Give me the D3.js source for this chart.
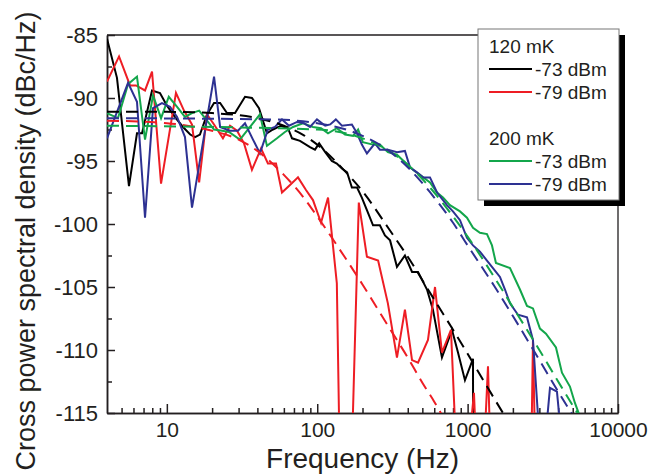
<!DOCTYPE html>
<html>
<head>
<meta charset="utf-8">
<script src="https://cdn.jsdelivr.net/npm/d3@7"></script>
<style>
body { margin: 0; background: #fff; }
text { font-family: "Liberation Sans", Arial, Helvetica, sans-serif; fill: #231f20; }
</style>
</head>
<body>
<svg id="chart"></svg>
<script>
// measured spectra, [frequency in Hz, dBc/Hz]; values under -115 fall below the axis
var black73 = [[4.0,-85.3],[4.66,-88.4],[5.6,-97.0],[6.33,-92.8],[6.84,-92.8],[7.97,-89.4],[9.0,-89.6],[10.0,-90.6],
    [11.3,-91.5],[12.8,-92.3],[14.3,-92.9],[15.4,-93.1],[16.6,-92.9],[18.5,-91.3],[20.6,-90.4],[22.6,-90.4],
    [25.1,-91.2],[28.4,-91.2],[33.1,-89.9],[36.8,-90.0],[41.0,-90.8],[46.3,-92.8],[50.8,-92.5],[57.4,-92.2],
    [63.9,-92.4],[68.0,-93.2],[76.8,-93.4],[89.5,-93.9],[96.6,-94.1],[103,-93.6],[113,-94.3],[125,-95.0],
    [135,-95.2],[146,-95.6],[158,-95.9],[170,-97.1],[184,-97.1],[198,-97.9],[214,-98.9],[235,-100.1],
    [261,-100.1],[282,-100.9],[305,-101.3],[339,-103.4],[383,-102.5],[427,-103.8],[468,-103.8],[537,-105.2],
    [588,-106.8],[675,-110.6],[787,-108.4],[863,-110.2],[960,-112.4],[1086,-110.7],[1090,-125]];

var red79 = [[4.0,-88.7],[4.81,-86.7],[5.69,-89.0],[6.24,-89.0],[7.16,-89.4],[7.97,-87.9],[9.15,-96.8],[11.5,-89.6],
    [13.0,-91.0],[14.7,-92.1],[16.4,-96.7],[18.5,-91.3],[20.6,-92.1],[23.6,-93.2],[26.3,-92.2],[29.3,-92.6],
    [32.6,-93.6],[36.8,-95.7],[42.3,-94.0],[47.0,-95.2],[53.2,-95.2],[58.3,-97.5],[65.9,-96.9],[74.5,-96.3],
    [84.2,-97.3],[93.7,-98.1],[106,-99.9],[118,-97.9],[135,-104.7],[151,-140],[189,-98.3],[214,-102.6],
    [254,-102.9],[295,-106.3],[339,-110.6],[383,-106.8],[427,-110.8],[468,-111.0],[545,-109.2],[607,-105.0],
    [675,-110.2],[775,-108.4],[890,-125],[1102,-113.4],[1208,-125],[1366,-111.3],[1474,-125],[2600,-125],
    [2720,-109.2],[2891,-125]];

var green73 = [[4.0,-91.2],[4.73,-91.6],[5.52,-88.9],[6.33,-88.3],[7.16,-93.3],[8.09,-89.8],[9.15,-91.6],[10.3,-89.9],
    [11.7,-90.7],[13.2,-91.5],[14.7,-91.2],[16.4,-91.0],[18.5,-91.8],[20.6,-92.5],[23.3,-92.6],[25.9,-92.7],
    [30.6,-93.3],[41.6,-91.3],[46.3,-93.8],[54.0,-93.2],[61.0,-92.7],[69.0,-92.3],[80.4,-92.0],[93.7,-92.3],
    [106,-92.4],[118,-92.8],[135,-92.4],[153,-92.9],[173,-93.0],[187,-92.5],[201,-93.5],[235,-93.7],
    [261,-93.7],[295,-94.3],[339,-94.5],[383,-95.1],[433,-95.7],[482,-96.1],[562,-96.7],[626,-97.5],
    [686,-97.9],[763,-98.5],[890,-99.0],[990,-99.5],[1086,-100.3],[1208,-100.7],[1345,-100.8],[1452,-101.7],
    [1543,-103.1],[1913,-103.5],[2229,-105.2],[2482,-106.5],[2720,-106.7],[3027,-108.3],[3318,-108.7],
    [3868,-109.8],[4240,-111.8],[4791,-112.9],[5171,-114.2],[5671,-115.5]];

var blue79 = [[4.0,-93.2],[5.52,-88.8],[6.33,-90.3],[7.16,-99.5],[8.09,-90.8],[9.28,-90.4],[10.5,-90.7],[11.7,-91.5],
    [13.2,-93.1],[14.7,-98.7],[20.6,-88.3],[22.6,-92.3],[26.3,-92.6],[29.7,-92.6],[33.1,-92.0],[37.4,-93.3],
    [41.6,-94.4],[47.0,-92.5],[52.4,-92.3],[58.3,-91.7],[64.9,-92.2],[73.4,-91.9],[81.6,-92.0],[89.5,-92.3],
    [99.6,-91.7],[113,-92.2],[122,-92.1],[133,-91.7],[146,-92.2],[170,-92.1],[184,-92.8],[198,-93.7],
    [214,-94.4],[242,-93.6],[261,-94.1],[295,-94.1],[339,-94.3],[383,-94.2],[414,-95.5],[460,-95.9],
    [505,-96.3],[562,-96.3],[626,-97.5],[686,-98.1],[729,-98.5],[799,-99.0],[890,-99.7],[990,-101.1],
    [1086,-101.7],[1208,-102.2],[1345,-102.9],[1474,-103.5],[1641,-104.2],[1772,-105.2],[1913,-106.3],
    [2162,-107.2],[2482,-107.4],[2720,-109.2],[3122,-120],[3529,-113.0],[3927,-113.3],[4440,-120]];

// fitted curves (dashed)
var black73Fit = [[4,-91.1],[10,-91.1],[20,-91.2],[40,-91.6],[60,-92.2],[80,-92.9],[100,-93.7],[150,-95.7],
    [200,-97.4],[300,-100.4],[400,-102.6],[600,-106.0],[800,-108.4],[1000,-110.3],[1300,-112.6],[1800,-115.4]];
var red79Fit = [[4,-91.8],[10,-92.0],[20,-92.6],[30,-93.3],[40,-94.2],[60,-96.1],[80,-97.8],[100,-99.4],
    [150,-102.5],[200,-104.8],[300,-108.2],[400,-110.6],[500,-112.6],[600,-114.1],[700,-115.5]];
var green73Fit = [[4,-92.2],[100,-92.5],[200,-93.2],[300,-94.2],[400,-95.3],[600,-97.5],[800,-99.4],[1000,-101.0],
    [1500,-104.2],[2000,-106.6],[3000,-110.0],[4000,-112.5],[5000,-114.4],[5800,-115.6]];
var blue79Fit = [[4,-91.6],[50,-91.7],[100,-92.0],[200,-93.0],[300,-94.2],[400,-95.5],[600,-97.9],[800,-99.9],
    [1000,-101.7],[1500,-104.9],[2000,-107.3],[3000,-110.8],[4000,-113.3],[5200,-115.5]];

var xMajor = [10, 100, 1000, 10000];
var xMinor = [5,6,7,8,9, 20,30,40,50,60,70,80,90, 200,300,400,500,600,700,800,900, 2000,3000,4000,5000,6000,7000,8000,9000];
var yMajor = [-115, -110, -105, -100, -95, -90, -85];
var yMinor = [-112.5, -107.5, -102.5, -97.5, -92.5, -87.5];

var legendGroups = [
    {title: "120 mK", items: [["-73 dBm", "black"], ["-79 dBm", "red"]]},
    {title: "200 mK", items: [["-73 dBm", "green"], ["-79 dBm", "blue"]]}
];

var colors = {black: "#000000", red: "#ee1d24", green: "#13a64b", blue: "#2d3192"};

//////////////////////////////////////////////////////////////////////////////
var W = 667, H = 475;
var plot = {x1: 107, x2: 618, y1: 35, y2: 413};

var svg = d3.select("#chart").attr("width", W).attr("height", H);

var x = d3.scaleLog().domain([4, 10000]).range([plot.x1, plot.x2]);
var y = d3.scaleLinear().domain([-115, -85]).range([plot.y2, plot.y1]);

svg.append("clipPath").attr("id", "clip")
    .append("rect")
    .attr("x", plot.x1).attr("y", plot.y1)
    .attr("width", plot.x2 - plot.x1).attr("height", plot.y2 - plot.y1);

function styleAxis(g, size) {
    g.attr("font-size", size).attr("font-family", null);
    g.selectAll(".domain").attr("stroke", "#231f20").attr("stroke-width", 1.5);
    g.selectAll(".tick line").attr("stroke", "#231f20").attr("stroke-width", 1.5);
    g.selectAll(".tick text").attr("fill", "#231f20");
}

// minor ticks first, then major with labels
svg.append("g").attr("transform", "translate(0," + plot.y2 + ")")
    .call(d3.axisBottom(x).tickValues(xMinor).tickFormat(function() { return ""; })
        .tickSizeInner(-5).tickSizeOuter(0))
    .call(styleAxis, 21);
svg.append("g").attr("transform", "translate(0," + plot.y2 + ")")
    .call(d3.axisBottom(x).tickValues(xMajor).tickFormat(String)
        .tickSizeInner(-9).tickSizeOuter(0).tickPadding(9))
    .call(styleAxis, 21);

svg.append("g").attr("transform", "translate(" + plot.x1 + ",0)")
    .call(d3.axisLeft(y).tickValues(yMinor).tickFormat(function() { return ""; })
        .tickSizeInner(-5).tickSizeOuter(0))
    .call(styleAxis, 22);
svg.append("g").attr("transform", "translate(" + plot.x1 + ",0)")
    .call(d3.axisLeft(y).tickValues(yMajor).tickFormat(String)
        .tickSizeInner(-8).tickSizeOuter(0).tickPadding(9))
    .call(styleAxis, 22);

// top and right frame
svg.append("path")
    .attr("d", "M" + plot.x1 + "," + plot.y1 + "H" + plot.x2 + "V" + plot.y2)
    .attr("fill", "none").attr("stroke", "#231f20").attr("stroke-width", 1.3);

var line = d3.line()
    .x(function(d) { return x(d[0]); })
    .y(function(d) { return y(d[1]); });
var fitLine = d3.line()
    .x(function(d) { return x(d[0]); })
    .y(function(d) { return y(d[1]); })
    .curve(d3.curveMonotoneX);

var lines = svg.append("g").attr("clip-path", "url(#clip)");

var solids = [[black73, "black"], [red79, "red"], [green73, "green"], [blue79, "blue"]];
for (var i=0; i<solids.length; ++i) {
    lines.append("path")
        .attr("d", line(solids[i][0]))
        .attr("fill", "none")
        .attr("stroke", colors[solids[i][1]])
        .attr("stroke-width", 2)
        .attr("stroke-linejoin", "miter");
}

var fits = [[black73Fit, "black"], [red79Fit, "red"], [green73Fit, "green"], [blue79Fit, "blue"]];
for (var i=0; i<fits.length; ++i) {
    lines.append("path")
        .attr("d", fitLine(fits[i][0]))
        .attr("fill", "none")
        .attr("stroke", colors[fits[i][1]])
        .attr("stroke-width", 2)
        .attr("stroke-dasharray", "12,7");
}

// axis titles
svg.append("text")
    .attr("x", (plot.x1 + plot.x2) / 2).attr("y", 468)
    .attr("text-anchor", "middle")
    .attr("font-size", 28)
    .text("Frequency (Hz)");

svg.append("text")
    .attr("transform", "translate(35,241) rotate(-90)")
    .attr("text-anchor", "middle")
    .attr("font-size", 27)
    .text("Cross power spectral density (dBc/Hz)");

// legend with drop shadow
var legend = svg.append("g");
legend.append("rect")
    .attr("x", 484).attr("y", 35).attr("width", 141).attr("height", 171)
    .attr("fill", "#000");
legend.append("rect")
    .attr("x", 478).attr("y", 29).attr("width", 141).attr("height", 171)
    .attr("fill", "#fff").attr("stroke", "#777").attr("stroke-width", 1);

var rowY = 53;
legendGroups.forEach(function(group, gi) {
    if (gi > 0) rowY += 46;
    legend.append("text").attr("x", 489).attr("y", rowY).attr("font-size", 19).text(group.title);
    group.items.forEach(function(item) {
        rowY += 23;
        legend.append("line")
            .attr("x1", 489).attr("x2", 532)
            .attr("y1", rowY - 7).attr("y2", rowY - 7)
            .attr("stroke", colors[item[1]]).attr("stroke-width", 2);
        legend.append("text").attr("x", 535).attr("y", rowY).attr("font-size", 19).text(item[0]);
    });
});
</script>
</body>
</html>
